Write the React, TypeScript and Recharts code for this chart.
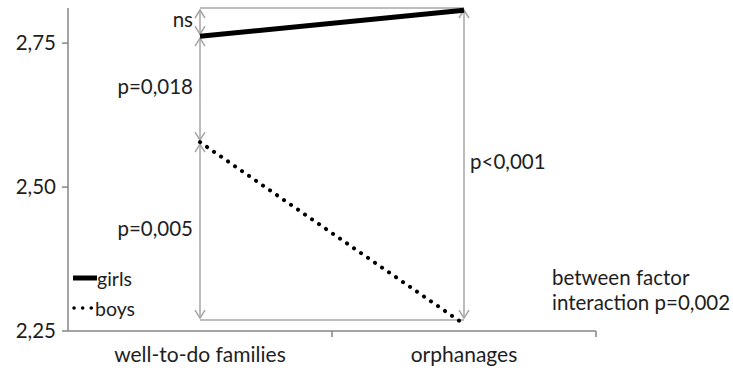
import React from 'react';
import { LineChart, Line, XAxis, YAxis, ReferenceLine } from 'recharts';

const categories = ['well-to-do families', 'orphanages'];
const girls = [2.762, 2.807];
const boys = [2.578, 2.262];
const yTicks = [2.25, 2.5, 2.75];

// comparison arrows: [x1, y1, x2, y2, label, side]
const topLevel = 2.811;
const bottomLevel = 2.269;
const arrows: [string, number, string, number, string, string][] = [
  [categories[0], topLevel, categories[0], girls[0], 'ns', 'left'],
  [categories[0], girls[0], categories[0], boys[0], 'p=0,018', 'left'],
  [categories[0], boys[0], categories[0], bottomLevel, 'p=0,005', 'left'],
  [categories[1], topLevel, categories[1], bottomLevel, 'p<0,001', 'right'],
];

const data = categories.map((name, i) => ({ name, girls: girls[i], boys: boys[i] }));

const FONT = 'Lato, "Open Sans", sans-serif';
const GRAY = '#a6a6a6';
const INK = '#1e1e1e';

const arrowHead = (x: number, y: number, dir: number) => (
  <path d={`M${x - 5},${y + dir * 8} L${x},${y} L${x + 5},${y + dir * 8}`} fill="none" stroke={GRAY} strokeWidth={1.5} />
);

const makeArrow = (label: string, side: string) => (props: any) => {
  const { x1, y1, x2, y2 } = props;
  const top = Math.min(y1, y2) + 2;
  const bot = Math.max(y1, y2) - 2;
  const mid = (top + bot) / 2;
  return (
    <g>
      <line x1={x1} y1={top} x2={x2} y2={bot} stroke={GRAY} strokeWidth={1.5} />
      {arrowHead(x1, top, 1)}
      {arrowHead(x1, bot, -1)}
      <text
        x={side === 'left' ? x1 - 7 : x1 + 6}
        y={mid}
        textAnchor={side === 'left' ? 'end' : 'start'}
        dominantBaseline="middle"
        fontSize={20.5}
        fontFamily={FONT}
        fill={INK}
      >
        {label}
      </text>
    </g>
  );
};

const plainLine = (props: any) => (
  <line x1={props.x1} y1={props.y1} x2={props.x2} y2={props.y2} stroke={GRAY} strokeWidth={1.5} />
);

const LegendBox = () => (
  <div style={{ position: 'absolute', left: 72, top: 263, fontFamily: FONT, fontSize: 19.5, color: INK }}>
    <div style={{ display: 'flex', alignItems: 'center', height: 30 }}>
      <svg width={25} height={8}><line x1={1} y1={4} x2={25} y2={4} stroke="#000" strokeWidth={5} /></svg>
      <span>girls</span>
    </div>
    <div style={{ display: 'flex', alignItems: 'center', height: 30 }}>
      <svg width={23} height={8}>
        <line x1={2} y1={4} x2={21} y2={4} stroke="#000" strokeWidth={3.5} strokeDasharray="0.1 8.5" strokeLinecap="round" />
      </svg>
      <span>boys</span>
    </div>
  </div>
);

const XTick = (props: any) => {
  const { x, y, payload } = props;
  return (
    <g>
      <line x1={x + 132} y1={y - 8} x2={x + 132} y2={y - 2} stroke="#868686" strokeWidth={1.5} />
      <text x={x} y={y + 23} textAnchor="middle" fontSize={21} fontFamily={FONT} fill={INK}>
        {payload.value}
      </text>
    </g>
  );
};

const App: React.FC = () => {
  return (
    <div style={{ position: 'absolute', left: 0, top: 0, width: 733, height: 371, background: '#fff' }}>
      <LineChart width={733} height={371} data={data} margin={{ top: 8, right: 137, bottom: 10, left: 8 }}>
        <XAxis
          dataKey="name"
          scale="band"
          stroke="#868686"
          strokeWidth={1.5}
          tickLine={false}
          tick={<XTick />}
          height={30}
          interval={0}
        />
        <YAxis
          domain={[2.25, topLevel]}
          ticks={yTicks}
          tickFormatter={(v: number) => v.toFixed(2).replace('.', ',')}
          stroke="#868686"
          strokeWidth={1.5}
          tickSize={6}
          tickMargin={6}
          width={60}
          tick={{ fontSize: 20.5, fontFamily: FONT, fill: INK }}
        />
        <ReferenceLine
          segment={[{ x: categories[0], y: topLevel }, { x: categories[1], y: topLevel }]}
          ifOverflow="visible"
          shape={plainLine}
        />
        <ReferenceLine
          segment={[{ x: categories[0], y: bottomLevel }, { x: categories[1], y: bottomLevel }]}
          ifOverflow="visible"
          shape={plainLine}
        />
        {arrows.map(([xa, ya, xb, yb, label, side], i) => (
          <ReferenceLine
            key={i}
            segment={[{ x: xa, y: ya }, { x: xb, y: yb }]}
            ifOverflow="visible"
            shape={makeArrow(label, side)}
          />
        ))}
        <Line dataKey="girls" stroke="#000" strokeWidth={5} dot={false} isAnimationActive={false} />
        <Line
          dataKey="boys"
          stroke="#000"
          strokeWidth={4}
          strokeDasharray="0.1 8.4"
          strokeLinecap="round"
          dot={false}
          isAnimationActive={false}
        />
      </LineChart>
      <LegendBox />
      <div style={{ position: 'absolute', left: 552, top: 265, fontFamily: FONT, fontSize: 20.5, color: INK, lineHeight: '25px', whiteSpace: 'nowrap' }}>
        between factor
        <br />
        interaction p=0,002
      </div>
    </div>
  );
};

export default App;
